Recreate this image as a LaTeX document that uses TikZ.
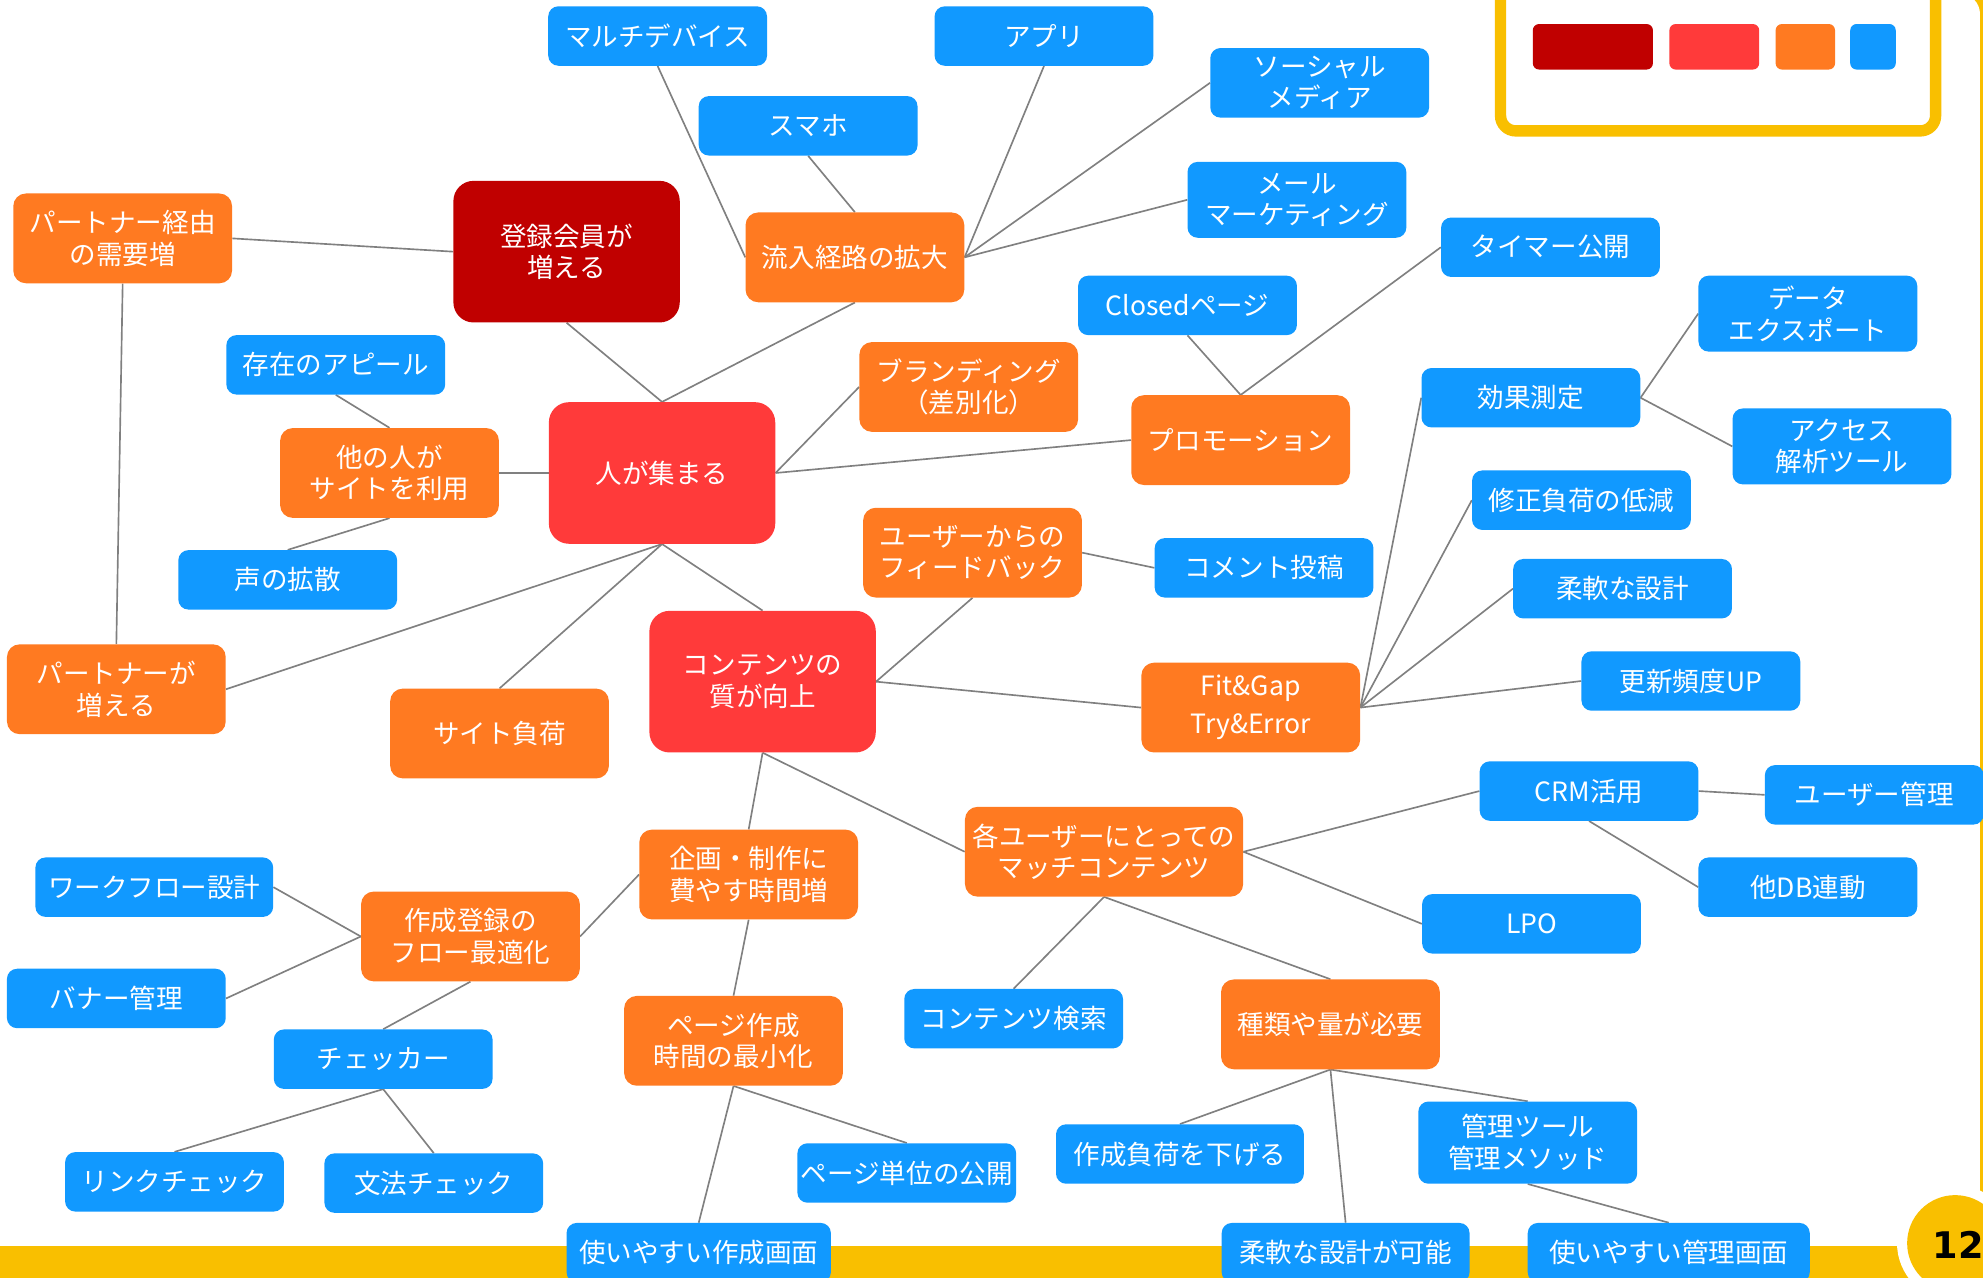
\documentclass[tikz,border=0pt]{standalone}
\usepackage{fontspec}
\setmainfont{Noto Sans CJK JP}
\newfontfamily\numfont{DejaVu Sans}
\usetikzlibrary{backgrounds}
\pgfdeclarelayer{bottom}
\pgfsetlayers{bottom,background,main}
\definecolor{cdark}{HTML}{C00000}
\definecolor{cred}{HTML}{FF3A3A}
\definecolor{corange}{HTML}{FF7A21}
\definecolor{cblue}{HTML}{1199FF}
\definecolor{cyellow}{HTML}{F9BF00}
\definecolor{cline}{HTML}{808080}
\begin{document}
\begin{tikzpicture}[x=1pt,y=-1pt,
  box/.style={text=white, align=center, inner sep=0pt, font=\fontsize{21}{25}\selectfont},
  bl/.style={box, fill=cblue, rounded corners=8pt, minimum width=173pt, minimum height=47pt},
  orn/.style={box, fill=corange, rounded corners=10pt, minimum width=173pt, minimum height=71pt},
  rdn/.style={box, fill=cred, rounded corners=16pt, minimum width=179pt, minimum height=112pt},
  dkn/.style={box, fill=cdark, rounded corners=16pt, minimum width=179pt, minimum height=112pt},
  conn/.style={draw=cline, line width=1.3pt},
  swatch/.style={rounded corners=5pt}]
\useasboundingbox (0,0) rectangle (1568,1010.5);
\clip (0,0) rectangle (1568,1010.5);
% frame
\begin{pgfonlayer}{bottom}
\fill[cyellow] (0,0) rectangle (1568,1010.5);
\fill[white, rounded corners=16pt] (-30,-5) rectangle (1565.6,985.2);
\end{pgfonlayer}
% legend
\draw[cyellow, line width=9pt, rounded corners=12pt] (1186.5,-40) rectangle (1530.5,103.5);
\fill[cdark, swatch] (1212,19) rectangle (1307,55);
\fill[cred, swatch] (1320,19) rectangle (1391,55);
\fill[corange, swatch] (1404,19) rectangle (1451,55);
\fill[cblue, swatch] (1463,19) rectangle (1499,55);
% page number
\fill[white] (1546,983) circle[radius=46pt];
\fill[cyellow] (1546,983) circle[radius=38pt];
\node[font=\numfont\bfseries\fontsize{29}{30}\selectfont, anchor=west, inner sep=0pt] (pnum) at (1528,984) {12};

% central nodes
\node[dkn] (touroku) at (448,199) {登録会員が\\増える};
\node[rdn] (hito) at (523.5,374) {人が集まる};
\node[rdn] (content) at (603,539) {コンテンツの\\質が向上};

% orange nodes
\node[orn] (pkeiyu) at (97,188.5) {パートナー経由\\の需要増};
\node[orn] (ryunyu) at (676,203.5) {流入経路の拡大};
\node[orn] (brand) at (766,306) {ブランディング\\（差別化）};
\node[orn] (promo) at (981,348) {プロモーション};
\node[orn] (tanin) at (308,374) {他の人が\\サイトを利用};
\node[orn] (feedback) at (769,437) {ユーザーからの\\フィードバック};
\node[orn] (pzou) at (92,545) {パートナーが\\増える};
\node[orn] (sfuka) at (395,580) {サイト負荷};
\node[orn] (fit) at (989,559.5) {Fit\&Gap\\[5pt]Try\&Error};
\node[orn, minimum width=220pt] (match) at (873,673.5) {各ユーザーにとっての\\マッチコンテンツ};
\node[orn] (kikaku) at (592,691.5) {企画・制作に\\費やす時間増};
\node[orn] (flow) at (372,740.5) {作成登録の\\フロー最適化};
\node[orn] (pagesak) at (580,823) {ページ作成\\時間の最小化};
\node[orn] (shurui) at (1052,810) {種類や量が必要};

% blue nodes
\node[bl] (mdev) at (520,28.5) {マルチデバイス};
\node[bl] (app) at (825.5,28.5) {アプリ};
\node[bl] (sp) at (639,99.5) {スマホ};
\node[bl, minimum height=55pt] (soc) at (1043.5,65.5) {ソーシャル\\メディア};
\node[bl, minimum height=60pt] (mail) at (1025.5,158) {メール\\マーケティング};
\node[bl] (timer) at (1226,195.5) {タイマー公開};
\node[bl] (closed) at (939,241.5) {Closedページ};
\node[bl, minimum height=60pt] (data) at (1429.5,248) {データ\\エクスポート};
\node[bl] (kouka) at (1210.5,314.5) {効果測定};
\node[bl, minimum height=60pt] (access) at (1456.5,353) {アクセス\\解析ツール};
\node[bl] (shusei) at (1250.5,395.5) {修正負荷の低減};
\node[bl] (juunan) at (1283,465.5) {柔軟な設計};
\node[bl] (koushin) at (1337,538.5) {更新頻度UP};
\node[bl] (comment) at (999.5,449) {コメント投稿};
\node[bl] (sonzai) at (265.5,288.5) {存在のアピール};
\node[bl] (koe) at (227.5,458.5) {声の拡散};
\node[bl] (crm) at (1256.5,625.5) {CRM活用};
\node[bl] (umgmt) at (1482,628.5) {ユーザー管理};
\node[bl] (db) at (1429.5,701.5) {他DB連動};
\node[bl] (lpo) at (1211,730.5) {LPO};
\node[bl, minimum width=188pt] (wf) at (122,701.5) {ワークフロー設計};
\node[bl] (banner) at (92,789.5) {バナー管理};
\node[bl] (checker) at (303,837.5) {チェッカー};
\node[bl] (link) at (138,934.5) {リンクチェック};
\node[bl] (bunpo) at (343,935.5) {文法チェック};
\node[bl] (csearch) at (801.5,805.5) {コンテンツ検索};
\node[bl, minimum width=196pt] (sakusei) at (933,912.5) {作成負荷を下げる};
\node[bl, minimum height=65pt] (kanri) at (1208,903.5) {管理ツール\\管理メソッド};
\node[bl] (pageunit) at (717,927.5) {ページ単位の公開};
\node[bl, minimum width=209pt] (useSak) at (552.5,990.5) {使いやすい作成画面};
\node[bl, minimum width=196pt] (juunan2) at (1064,990.5) {柔軟な設計が可能};
\node[bl, minimum width=223pt] (useKan) at (1319.5,990.5) {使いやすい管理画面};

% connectors
\begin{scope}[on background layer]
\draw[conn] (touroku.south) -- (hito.north);
\draw[conn] (ryunyu.south) -- (hito.north);
\draw[conn] (mdev.south) -- (ryunyu.west);
\draw[conn] (sp.south) -- (ryunyu.north);
\draw[conn] (app.south) -- (ryunyu.east);
\draw[conn] (soc.west) -- (ryunyu.east);
\draw[conn] (mail.west) -- (ryunyu.east);
\draw[conn] (touroku.west) -- (pkeiyu.east);
\draw[conn] (pkeiyu.south) -- (pzou.north);
\draw[conn] (hito.south) -- (pzou.east);
\draw[conn] (hito.south) -- (sfuka.north);
\draw[conn] (hito.south) -- (content.north);
\draw[conn] (hito.west) -- (tanin.east);
\draw[conn] (tanin.north) -- (sonzai.south);
\draw[conn] (tanin.south) -- (koe.north);
\draw[conn] (hito.east) -- (brand.west);
\draw[conn] (hito.east) -- (promo.west);
\draw[conn] (promo.north) -- (closed.south);
\draw[conn] (promo.north) -- (timer.west);
\draw[conn] (content.east) -- (feedback.south);
\draw[conn] (feedback.east) -- (comment.west);
\draw[conn] (content.east) -- (fit.west);
\draw[conn] (fit.east) -- (kouka.west);
\draw[conn] (fit.east) -- (shusei.west);
\draw[conn] (fit.east) -- (juunan.west);
\draw[conn] (fit.east) -- (koushin.west);
\draw[conn] (kouka.east) -- (data.west);
\draw[conn] (kouka.east) -- (access.west);
\draw[conn] (content.south) -- (match.west);
\draw[conn] (content.south) -- (kikaku.north);
\draw[conn] (match.east) -- (crm.west);
\draw[conn] (match.east) -- (lpo.west);
\draw[conn] (crm.east) -- (umgmt.west);
\draw[conn] (crm.south) -- (db.west);
\draw[conn] (match.south) -- (csearch.north);
\draw[conn] (match.south) -- (shurui.north);
\draw[conn] (shurui.south) -- (sakusei.north);
\draw[conn] (shurui.south) -- (kanri.north);
\draw[conn] (shurui.south) -- (juunan2.north);
\draw[conn] (kanri.south) -- (useKan.north);
\draw[conn] (kikaku.west) -- (flow.east);
\draw[conn] (kikaku.south) -- (pagesak.north);
\draw[conn] (flow.west) -- (wf.east);
\draw[conn] (flow.west) -- (banner.east);
\draw[conn] (flow.south) -- (checker.north);
\draw[conn] (checker.south) -- (link.north);
\draw[conn] (checker.south) -- (bunpo.north);
\draw[conn] (pagesak.south) -- (pageunit.north);
\draw[conn] (pagesak.south) -- (useSak.north);
\end{scope}
\end{tikzpicture}
\end{document}
